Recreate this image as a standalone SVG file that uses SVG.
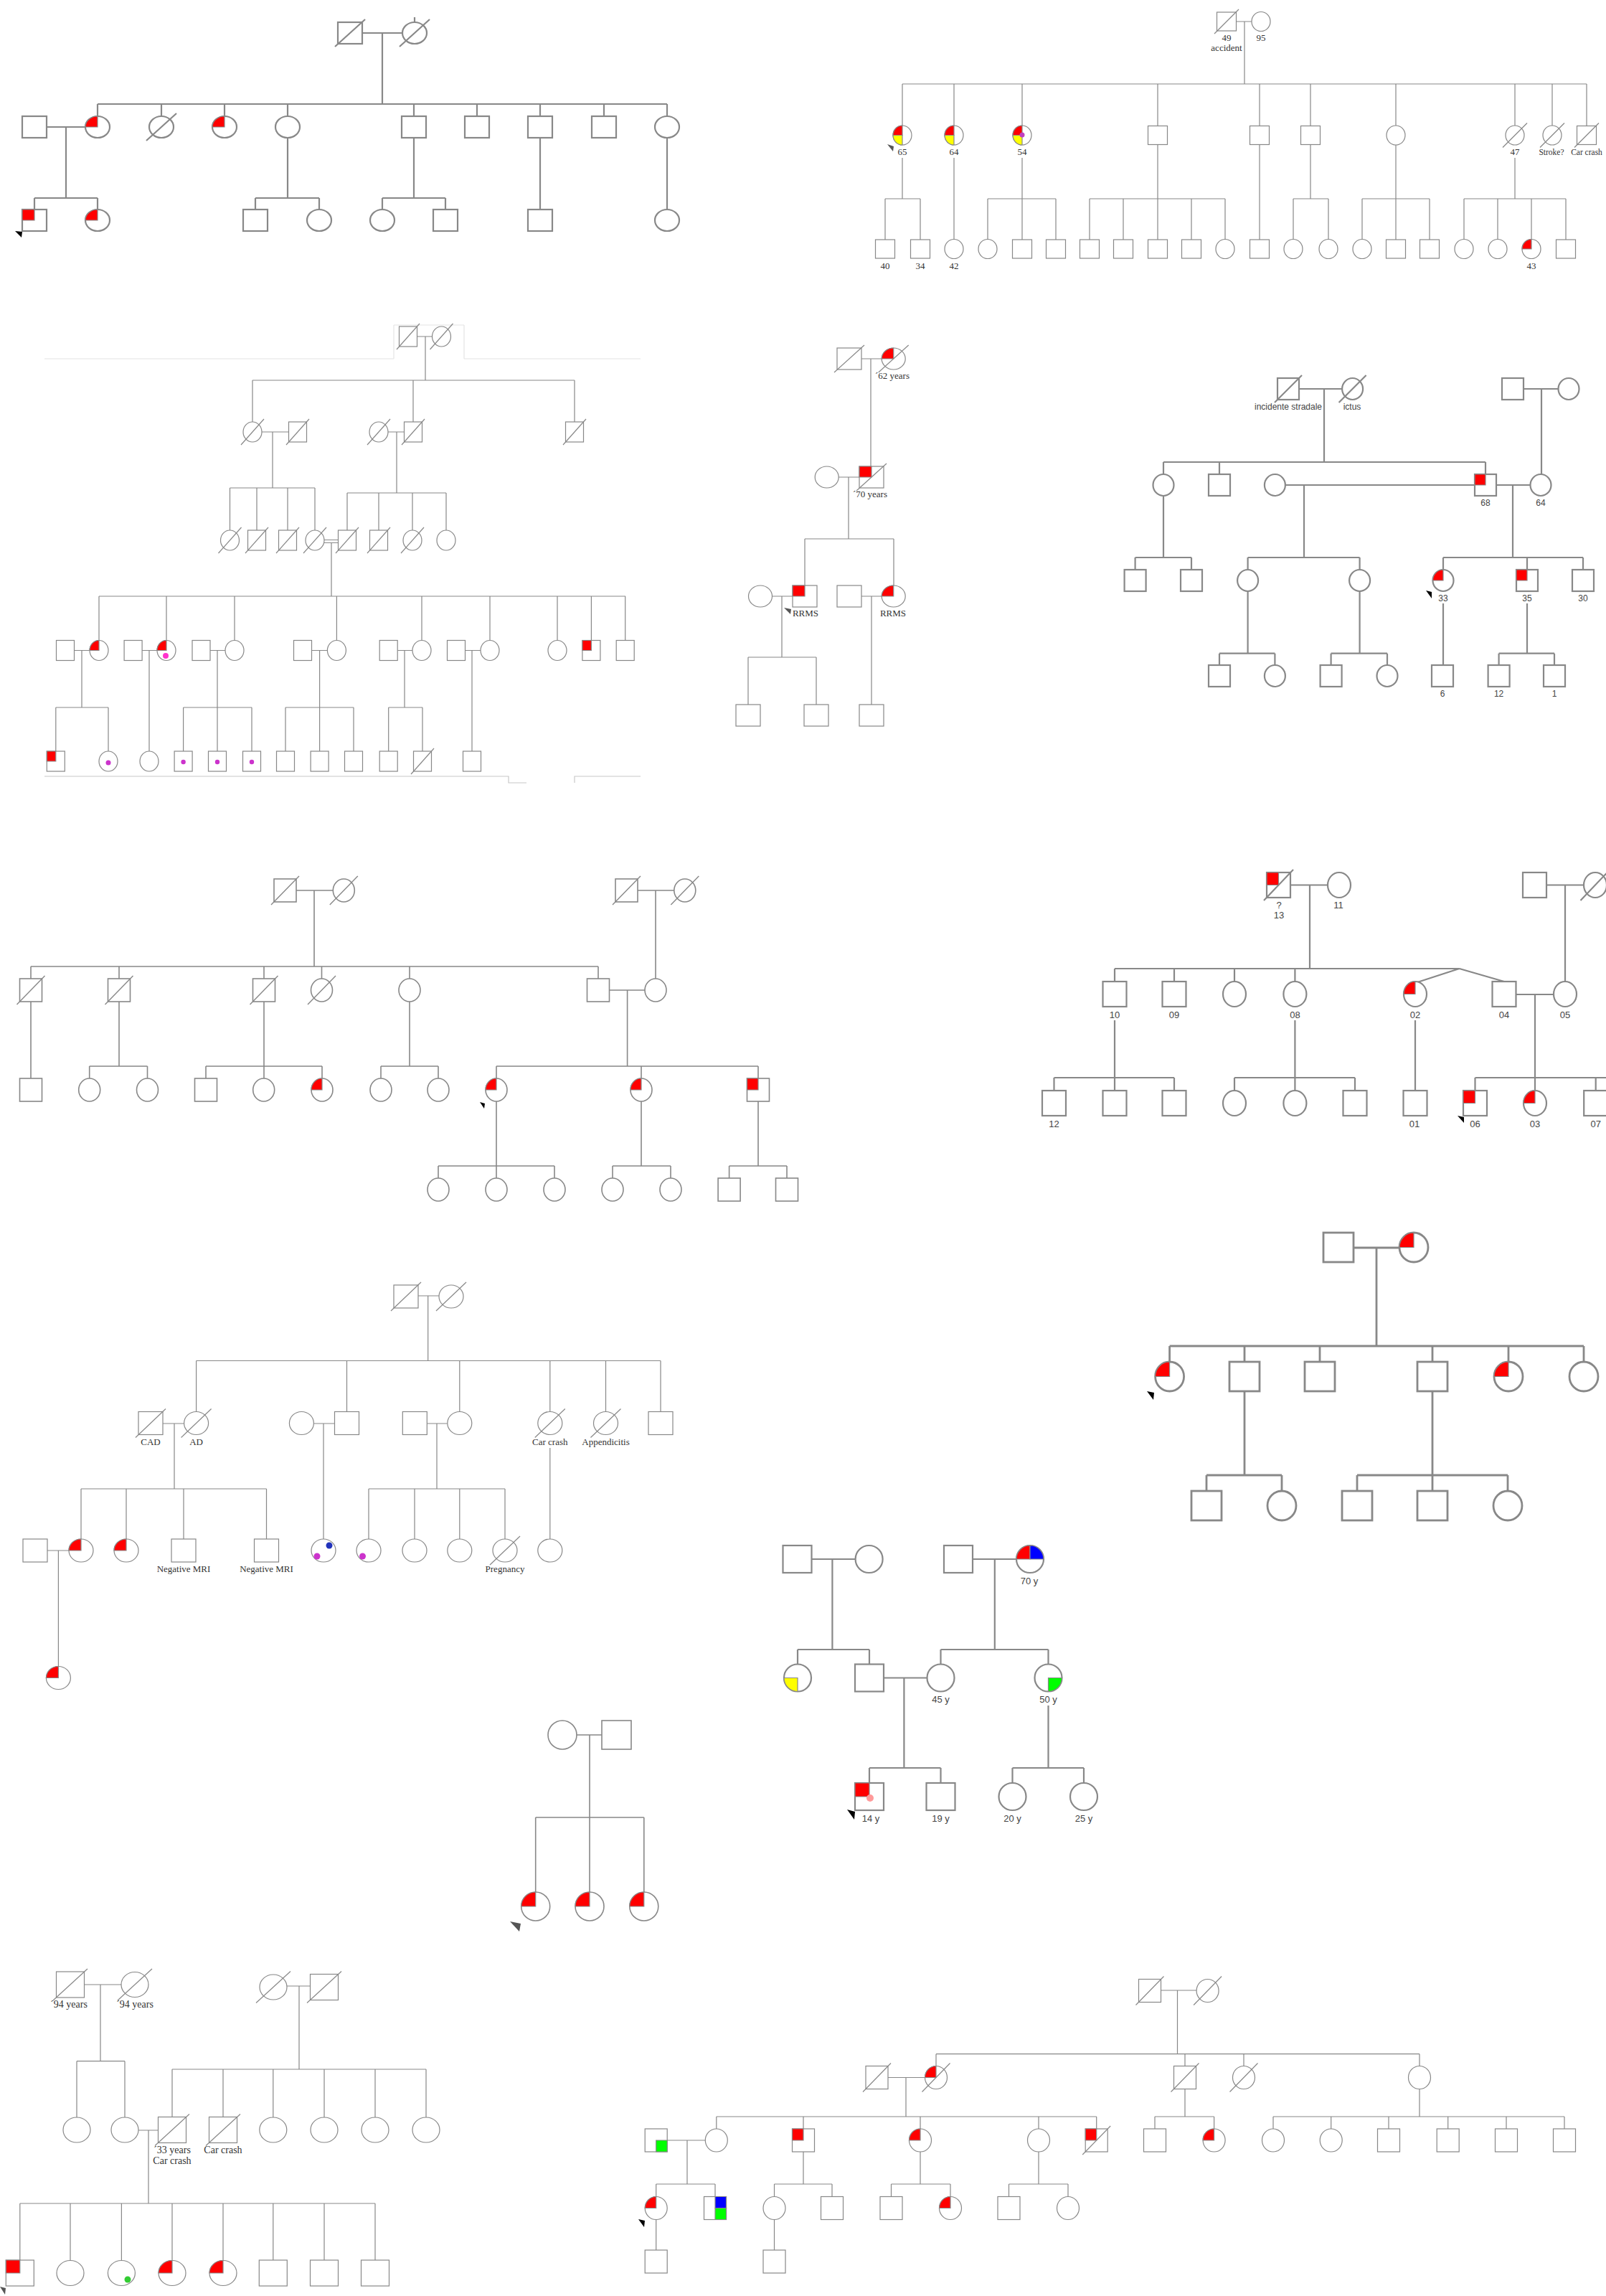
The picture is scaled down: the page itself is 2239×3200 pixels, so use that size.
<svg xmlns="http://www.w3.org/2000/svg" width="2239" height="3200" viewBox="0 0 2239 3200">
<style>
.ln{fill:none;stroke:#888;stroke-width:1.6}
.n{fill:#fff;stroke:#888;stroke-width:1.6}
.r{fill:#f00;stroke:#888;stroke-width:1.2}
.y{fill:#ff0;stroke:#888;stroke-width:1.2}
.b{fill:#00f;stroke:#888;stroke-width:1.2}
.g{fill:#0f0;stroke:#888;stroke-width:1.2}
.k{fill:none;stroke:#888;stroke-width:1.4}
.w1 .ln,.w1 .n,.w1 .k{stroke-width:1.2}
.w3 .ln,.w3 .n,.w3 .k{stroke-width:2.2}
.w4 .ln,.w4 .n,.w4 .k{stroke-width:2.8}
.faint{fill:none;stroke:#e4e4e4;stroke-width:1.2}
.faint2{fill:none;stroke:#c8c8c8;stroke-width:1.2}
.ar{fill:#000}
.ag{fill:#555}
.ts{font-family:"Liberation Serif",serif;font-size:13px;fill:#333;text-anchor:middle}
.tsn{font-family:"Liberation Serif",serif;font-size:11.5px;fill:#333;text-anchor:middle}
.tl{font-family:"Liberation Serif",serif;font-size:14px;fill:#333;text-anchor:middle}
.tn{font-family:"Liberation Sans",sans-serif;font-size:13px;fill:#444;text-anchor:middle}
.te{font-family:"Liberation Sans",sans-serif;font-size:12px;fill:#444;text-anchor:middle}
</style>
<defs>
<rect id="A-s" x="-17" y="-15" width="34" height="30"/>
<ellipse id="A-c" rx="17" ry="15"/>
<path id="A-qs" d="M-17-15H0V0H-17Z"/>
<path id="A-qc" d="M-17,0A17,15 0 0 1 0-15V0Z"/>
<path id="A-x" d="M-21,19L21-19"/>
<rect id="B-s" x="-13.5" y="-13" width="27" height="26"/>
<ellipse id="B-c" rx="13" ry="13.5"/>
<path id="B-qc" d="M-13,0A13,13.5 0 0 1 0-13.5V0Z"/>
<path id="B-qy" d="M-13,0A13,13.5 0 0 0 0,13.5V0Z"/>
<path id="B-x" d="M-17,17L17-17"/>
<rect id="C-s" x="-12.5" y="-14" width="25" height="28"/>
<ellipse id="C-c" rx="13" ry="14"/>
<path id="C-qs" d="M-12.5-14H0V0H-12.5Z"/>
<path id="C-qc" d="M-13,0A13,14 0 0 1 0-14V0Z"/>
<path id="C-x" d="M-16,18L16-18"/>
<rect id="D-s" x="-17" y="-15" width="34" height="30"/>
<ellipse id="D-c" rx="16.5" ry="15"/>
<path id="D-qs" d="M-17-15H0V0H-17Z"/>
<path id="D-qc" d="M-16.5,0A16.5,15 0 0 1 0-15V0Z"/>
<path id="D-x" d="M-21,19L21-19"/>
<rect id="E-s" x="-15" y="-15" width="30" height="30"/>
<ellipse id="E-c" rx="14.5" ry="15"/>
<path id="E-qs" d="M-15-15H0V0H-15Z"/>
<path id="E-qc" d="M-14.5,0A14.5,15 0 0 1 0-15V0Z"/>
<path id="E-x" d="M-19,19L19-19"/>
<rect id="F-s" x="-15.5" y="-16" width="31" height="32"/>
<ellipse id="F-c" rx="15" ry="16"/>
<path id="F-qs" d="M-15.5-16H0V0H-15.5Z"/>
<path id="F-qc" d="M-15,0A15,16 0 0 1 0-16V0Z"/>
<path id="F-x" d="M-19.5,20L19.5-20"/>
<rect id="G-s" x="-16.5" y="-17.5" width="33" height="35"/>
<ellipse id="G-c" rx="16" ry="17.5"/>
<path id="G-qs" d="M-16.5-17.5H0V0H-16.5Z"/>
<path id="G-qc" d="M-16,0A16,17.5 0 0 1 0-17.5V0Z"/>
<path id="G-x" d="M-20.5,21.5L20.5-21.5"/>
<rect id="H-s" x="-17" y="-16" width="34" height="32"/>
<ellipse id="H-c" rx="17" ry="16"/>
<path id="H-qc" d="M-17,0A17,16 0 0 1 0-16V0Z"/>
<path id="H-x" d="M-21,20L21-20"/>
<rect id="I-s" x="-21" y="-20.5" width="42" height="41"/>
<ellipse id="I-c" rx="20" ry="20.5"/>
<path id="I-qc" d="M-20,0A20,20.5 0 0 1 0-20.5V0Z"/>
<rect id="J-s" x="-20.5" y="-20" width="41" height="40"/>
<ellipse id="J-c" rx="20" ry="20"/>
<path id="J-qc" d="M-20,0A20,20 0 0 1 0-20V0Z"/>
<rect id="K-s" x="-20" y="-19" width="40" height="38"/>
<ellipse id="K-c" rx="19" ry="19"/>
<path id="K-qs" d="M-20-19H0V0H-20Z"/>
<path id="K-qc" d="M-19,0A19,19 0 0 1 0-19V0Z"/>
<path id="K-qtr" d="M0-19A19,19 0 0 1 19,0H0Z"/>
<path id="K-qbl" d="M-19,0A19,19 0 0 0 0,19V0Z"/>
<path id="K-qbr" d="M0,19A19,19 0 0 0 19,0H0Z"/>
<rect id="L-s" x="-19.5" y="-18" width="39" height="36"/>
<ellipse id="L-c" rx="19" ry="17.5"/>
<path id="L-qs" d="M-19.5-18H0V0H-19.5Z"/>
<path id="L-qc" d="M-19,0A19,17.5 0 0 1 0-17.5V0Z"/>
<path id="L-x" d="M-24,22L24-22"/>
<rect id="M-s" x="-15.5" y="-16" width="31" height="32"/>
<ellipse id="M-c" rx="15.5" ry="16"/>
<path id="M-qs" d="M-15.5-16H0V0H-15.5Z"/>
<path id="M-qc" d="M-15.5,0A15.5,16 0 0 1 0-16V0Z"/>
<path id="M-qtr" d="M0-16H15.5V0H0Z"/>
<path id="M-qbr" d="M0,0H15.5V16H0Z"/>
<path id="M-x" d="M-19.5,20L19.5-20"/>
</defs>
<rect width="2239" height="3200" fill="#fff"/>

<!-- ===== Pedigree A ===== -->
<g id="pedA" class="w3">
<g id="A-connectors"><path class="ln" d="M505,46H561 M533,46V145 M136,145H930 M136,145V162 M225,145V162 M313,145V162 M401,145V162 M577,145V162 M665,145V162 M753,145V162 M842,145V162 M930,145V162 M65,177H119 M92,177V276 M48,276H136 M48,276V292 M136,276V292 M401,192V276 M356,276H445 M356,276V292 M445,276V292 M577,192V276 M533,276H621 M533,276V292 M621,276V292 M753,192V292 M930,192V292"/></g>
<g id="A1"><use href="#A-s" class="n" x="488" y="46"/><use href="#A-x" class="k" x="488" y="46"/></g>
<g id="A2"><use href="#A-c" class="n" x="578" y="46"/><use href="#A-x" class="k" x="578" y="46"/><path class="k" d="M578,24V31"/></g>
<g id="A3"><use href="#A-s" class="n" x="48" y="177"/></g>
<g id="A4"><use href="#A-c" class="n" x="136" y="177"/><use href="#A-qc" class="r" x="136" y="177"/></g>
<g id="A5"><use href="#A-c" class="n" x="225" y="177"/><use href="#A-x" class="k" x="225" y="177"/></g>
<g id="A6"><use href="#A-c" class="n" x="313" y="177"/><use href="#A-qc" class="r" x="313" y="177"/></g>
<g id="A7"><use href="#A-c" class="n" x="401" y="177"/></g>
<g id="A8"><use href="#A-s" class="n" x="577" y="177"/></g>
<g id="A9"><use href="#A-s" class="n" x="665" y="177"/></g>
<g id="A10"><use href="#A-s" class="n" x="753" y="177"/></g>
<g id="A11"><use href="#A-s" class="n" x="842" y="177"/></g>
<g id="A12"><use href="#A-c" class="n" x="930" y="177"/></g>
<g id="A13"><use href="#A-s" class="n" x="48" y="307"/><use href="#A-qs" class="r" x="48" y="307"/><polygon class="ar" points="21,322 31,323 30,331"/></g>
<g id="A14"><use href="#A-c" class="n" x="136" y="307"/><use href="#A-qc" class="r" x="136" y="307"/></g>
<g id="A15"><use href="#A-s" class="n" x="356" y="307"/></g>
<g id="A16"><use href="#A-c" class="n" x="445" y="307"/></g>
<g id="A17"><use href="#A-c" class="n" x="533" y="307"/></g>
<g id="A18"><use href="#A-s" class="n" x="621" y="307"/></g>
<g id="A19"><use href="#A-s" class="n" x="753" y="307"/></g>
<g id="A20"><use href="#A-c" class="n" x="930" y="307"/></g>
</g>

<!-- ===== Pedigree B ===== -->
<g id="pedB" class="w1">
<g id="B-connectors"><path class="ln" d="M1723.5,30H1745 M1735,30V117 M1258,117H2212 M1258,117V175 M1330,117V175 M1425,117V175 M1614,117V175 M1756,117V175 M1827,117V175 M1946,117V175 M2112,117V175 M2164,117V175 M2212,117V175 M1258,220V277 M1234,277H1283 M1234,277V334 M1283,277V334 M1330,220V334 M1425,220V277 M1377,277H1472 M1377,277V334 M1425,277V334 M1472,277V334 M1614,202V277 M1519,277H1708 M1519,277V334 M1566,277V334 M1614,277V334 M1661,277V334 M1708,277V334 M1756,202V334 M1827,202V277 M1803,277H1852 M1803,277V334 M1852,277V334 M1946,202V277 M1899,277H1993 M1899,277V334 M1946,277V334 M1993,277V334 M2112,220V277 M2041,277H2183 M2041,277V334 M2088,277V334 M2135,277V334 M2183,277V334"/></g>
<g id="B1"><use href="#B-s" class="n" x="1710" y="30"/><use href="#B-x" class="k" x="1710" y="30"/><text class="ts" x="1710" y="57">49</text><text class="ts" x="1710" y="71">accident</text></g>
<g id="B2"><use href="#B-c" class="n" x="1758" y="30"/><text class="ts" x="1758" y="57">95</text></g>
<g id="B3"><use href="#B-c" class="n" x="1258" y="188.5"/><use href="#B-qc" class="r" x="1258" y="188.5"/><use href="#B-qy" class="y" x="1258" y="188.5"/><text class="ts" x="1258" y="216">65</text><polygon class="ag" points="1237,201 1246,204 1245,211"/></g>
<g id="B4"><use href="#B-c" class="n" x="1330" y="188.5"/><use href="#B-qc" class="r" x="1330" y="188.5"/><use href="#B-qy" class="y" x="1330" y="188.5"/><text class="ts" x="1330" y="216">64</text></g>
<g id="B5"><use href="#B-c" class="n" x="1425" y="188.5"/><use href="#B-qc" class="r" x="1425" y="188.5"/><use href="#B-qy" class="y" x="1425" y="188.5"/><circle cx="1425" cy="188" r="3.5" fill="#c040c0"/><text class="ts" x="1425" y="216">54</text></g>
<g id="B6"><use href="#B-s" class="n" x="1614" y="188.5"/></g>
<g id="B7"><use href="#B-s" class="n" x="1756" y="188.5"/></g>
<g id="B8"><use href="#B-s" class="n" x="1827" y="188.5"/></g>
<g id="B9"><use href="#B-c" class="n" x="1946" y="188.5"/></g>
<g id="B10"><use href="#B-c" class="n" x="2112" y="188.5"/><use href="#B-x" class="k" x="2112" y="188.5"/><text class="ts" x="2112" y="216">47</text></g>
<g id="B11"><use href="#B-c" class="n" x="2164" y="188.5"/><use href="#B-x" class="k" x="2164" y="188.5"/><text class="tsn" x="2163" y="216">Stroke?</text></g>
<g id="B12"><use href="#B-s" class="n" x="2212" y="188.5"/><use href="#B-x" class="k" x="2212" y="188.5"/><text class="tsn" x="2212" y="216">Car crash</text></g>
<g id="B13"><use href="#B-s" class="n" x="1234" y="347"/><text class="ts" x="1234" y="375">40</text></g>
<g id="B14"><use href="#B-s" class="n" x="1283" y="347"/><text class="ts" x="1283" y="375">34</text></g>
<g id="B15"><use href="#B-c" class="n" x="1330" y="347"/><text class="ts" x="1330" y="375">42</text></g>
<g id="B16"><use href="#B-c" class="n" x="1377" y="347"/></g>
<g id="B17"><use href="#B-s" class="n" x="1425" y="347"/></g>
<g id="B18"><use href="#B-s" class="n" x="1472" y="347"/></g>
<g id="B19"><use href="#B-s" class="n" x="1519" y="347"/></g>
<g id="B20"><use href="#B-s" class="n" x="1566" y="347"/></g>
<g id="B21"><use href="#B-s" class="n" x="1614" y="347"/></g>
<g id="B22"><use href="#B-s" class="n" x="1661" y="347"/></g>
<g id="B23"><use href="#B-c" class="n" x="1708" y="347"/></g>
<g id="B24"><use href="#B-s" class="n" x="1756" y="347"/></g>
<g id="B25"><use href="#B-c" class="n" x="1803" y="347"/></g>
<g id="B26"><use href="#B-c" class="n" x="1852" y="347"/></g>
<g id="B27"><use href="#B-c" class="n" x="1899" y="347"/></g>
<g id="B28"><use href="#B-s" class="n" x="1946" y="347"/></g>
<g id="B29"><use href="#B-s" class="n" x="1993" y="347"/></g>
<g id="B30"><use href="#B-c" class="n" x="2041" y="347"/></g>
<g id="B31"><use href="#B-c" class="n" x="2088" y="347"/></g>
<g id="B32"><use href="#B-c" class="n" x="2135" y="347"/><use href="#B-qc" class="r" x="2135" y="347"/><text class="ts" x="2135" y="375">43</text></g>
<g id="B33"><use href="#B-s" class="n" x="2183" y="347"/></g>
</g>

<!-- ===== Pedigree C ===== -->
<g id="pedC" class="w1">
<path class="faint" d="M62,500H549 M549,453V500 M549,453H647 M647,453V500 M647,500H893"/>
<path class="faint2" d="M62,1082H709V1091H734 M801,1091V1082H893"/>
<g id="C-connectors"><path class="ln" d="M581.5,469H602.5 M593,469V530 M352,530H801 M352,530V588 M576,530V588 M801,530V588 M365,602H402.5 M380,602V680 M541,602H563.5 M553,602V687 M320.5,680H439 M320.5,680V739 M358,680V739 M401,680V739 M439,680V739 M484,687H622 M484,687V739 M528,687V739 M575,687V739 M622,687V739 M452,752.5H471.5 M452,756.5H471.5 M462,756.5V831 M138,831H872 M138,831V892.5 M232,831V892.5 M327,831V892.5 M469.4,831V892.5 M588,831V892.5 M683,831V892.5 M777,831V892.5 M824.4,831V892.5 M871.7,831V892.5 M103.5,906.5H125 M114,906.5V986 M198,906.5H219 M208,906.5V1047 M293,906.5H314 M303,906.5V986 M434.5,906.5H456.4 M445.6,906.5V986 M554.2,906.5H575 M564,906.5V986 M648.5,906.5H670 M658,906.5V1047 M77.8,986H151 M77.8,986V1047 M151,986V1047 M255.6,986H351 M255.6,986V1047 M303,986V1047 M351,986V1047 M398,986H493 M398,986V1047 M445.6,986V1047 M493,986V1047 M541.7,986H589 M541.7,986V1047 M589,986V1047"/></g>
<g id="C1"><use href="#C-s" class="n" x="569" y="469"/><use href="#C-x" class="k" x="569" y="469"/></g>
<g id="C2"><use href="#C-c" class="n" x="615.5" y="469"/><use href="#C-x" class="k" x="615.5" y="469"/></g>
<g id="C3"><use href="#C-c" class="n" x="352" y="602"/><use href="#C-x" class="k" x="352" y="602"/></g>
<g id="C4"><use href="#C-s" class="n" x="415" y="602"/><use href="#C-x" class="k" x="415" y="602"/></g>
<g id="C5"><use href="#C-c" class="n" x="528" y="602"/><use href="#C-x" class="k" x="528" y="602"/></g>
<g id="C6"><use href="#C-s" class="n" x="576" y="602"/><use href="#C-x" class="k" x="576" y="602"/></g>
<g id="C7"><use href="#C-s" class="n" x="801" y="602"/><use href="#C-x" class="k" x="801" y="602"/></g>
<g id="C8"><use href="#C-c" class="n" x="320.5" y="753"/><use href="#C-x" class="k" x="320.5" y="753"/></g>
<g id="C9"><use href="#C-s" class="n" x="358" y="753"/><use href="#C-x" class="k" x="358" y="753"/></g>
<g id="C10"><use href="#C-s" class="n" x="401" y="753"/><use href="#C-x" class="k" x="401" y="753"/></g>
<g id="C11"><use href="#C-c" class="n" x="439" y="753"/><use href="#C-x" class="k" x="439" y="753"/></g>
<g id="C12"><use href="#C-s" class="n" x="484" y="753"/><use href="#C-x" class="k" x="484" y="753"/></g>
<g id="C13"><use href="#C-s" class="n" x="528" y="753"/><use href="#C-x" class="k" x="528" y="753"/></g>
<g id="C14"><use href="#C-c" class="n" x="575" y="753"/><use href="#C-x" class="k" x="575" y="753"/></g>
<g id="C15"><use href="#C-c" class="n" x="622" y="753"/></g>
<g id="C16"><use href="#C-s" class="n" x="91" y="906.5"/></g>
<g id="C17"><use href="#C-c" class="n" x="138" y="906.5"/><use href="#C-qc" class="r" x="138" y="906.5"/></g>
<g id="C18"><use href="#C-s" class="n" x="185.6" y="906.5"/></g>
<g id="C19"><use href="#C-c" class="n" x="232" y="906.5"/><use href="#C-qc" class="r" x="232" y="906.5"/><circle cx="231" cy="914" r="4" fill="#ff33cc"/></g>
<g id="C20"><use href="#C-s" class="n" x="280.5" y="906.5"/></g>
<g id="C21"><use href="#C-c" class="n" x="327" y="906.5"/></g>
<g id="C22"><use href="#C-s" class="n" x="422" y="906.5"/></g>
<g id="C23"><use href="#C-c" class="n" x="469.4" y="906.5"/></g>
<g id="C24"><use href="#C-s" class="n" x="541.7" y="906.5"/></g>
<g id="C25"><use href="#C-c" class="n" x="588" y="906.5"/></g>
<g id="C26"><use href="#C-s" class="n" x="636" y="906.5"/></g>
<g id="C27"><use href="#C-c" class="n" x="683" y="906.5"/></g>
<g id="C28"><use href="#C-c" class="n" x="777" y="906.5"/></g>
<g id="C29"><use href="#C-s" class="n" x="824.4" y="906.5"/><use href="#C-qs" class="r" x="824.4" y="906.5"/></g>
<g id="C30"><use href="#C-s" class="n" x="871.7" y="906.5"/></g>
<g id="C31"><use href="#C-s" class="n" x="77.8" y="1061"/><use href="#C-qs" class="r" x="77.8" y="1061"/></g>
<g id="C32"><use href="#C-c" class="n" x="151" y="1061"/><circle cx="151" cy="1063" r="3.5" fill="#cc33cc"/></g>
<g id="C33"><use href="#C-c" class="n" x="208" y="1061"/></g>
<g id="C34"><use href="#C-s" class="n" x="255.6" y="1061"/><circle cx="255.6" cy="1062" r="3.2" fill="#cc33cc"/></g>
<g id="C35"><use href="#C-s" class="n" x="303" y="1061"/><circle cx="303" cy="1062" r="3.2" fill="#cc33cc"/></g>
<g id="C36"><use href="#C-s" class="n" x="351" y="1061"/><circle cx="351" cy="1062" r="3.2" fill="#cc33cc"/></g>
<g id="C37"><use href="#C-s" class="n" x="398" y="1061"/></g>
<g id="C38"><use href="#C-s" class="n" x="445.6" y="1061"/></g>
<g id="C39"><use href="#C-s" class="n" x="493" y="1061"/></g>
<g id="C40"><use href="#C-s" class="n" x="541.7" y="1061"/></g>
<g id="C41"><use href="#C-s" class="n" x="589" y="1061"/><use href="#C-x" class="k" x="589" y="1061"/></g>
<g id="C42"><use href="#C-s" class="n" x="658" y="1061"/></g>
</g>

<!-- ===== Pedigree D ===== -->
<g id="pedD" class="w1">
<g id="D-connectors"><path class="ln" d="M1201,500H1229 M1214,500V650 M1169,665H1198 M1183,665V751 M1122,751H1246 M1122,751V816 M1246,751V816 M1076.5,831H1105 M1090,831V916 M1043,916H1138 M1043,916V982 M1138,916V982 M1201,831H1229 M1215,831V982"/></g>
<g id="D1"><use href="#D-s" class="n" x="1184" y="500"/><use href="#D-x" class="k" x="1184" y="500"/></g>
<g id="D2"><use href="#D-c" class="n" x="1245.7" y="500"/><use href="#D-qc" class="r" x="1245.7" y="500"/><use href="#D-x" class="k" x="1245.7" y="500"/><text class="ts" x="1244" y="528">´62 years</text></g>
<g id="D3"><use href="#D-c" class="n" x="1152.7" y="665"/></g>
<g id="D4"><use href="#D-s" class="n" x="1215" y="665"/><use href="#D-qs" class="r" x="1215" y="665"/><use href="#D-x" class="k" x="1215" y="665"/><text class="ts" x="1213" y="693">´70 years</text></g>
<g id="D5"><use href="#D-c" class="n" x="1060" y="831"/></g>
<g id="D6"><use href="#D-s" class="n" x="1122" y="831"/><use href="#D-qs" class="r" x="1122" y="831"/><text class="ts" x="1123" y="859">RRMS</text><polygon class="ag" points="1093,847 1103,849 1102,856"/></g>
<g id="D7"><use href="#D-s" class="n" x="1184" y="831"/></g>
<g id="D8"><use href="#D-c" class="n" x="1245.7" y="831"/><use href="#D-qc" class="r" x="1245.7" y="831"/><text class="ts" x="1245" y="859">RRMS</text></g>
<g id="D9"><use href="#D-s" class="n" x="1043" y="997"/></g>
<g id="D10"><use href="#D-s" class="n" x="1138" y="997"/></g>
<g id="D11"><use href="#D-s" class="n" x="1215" y="997"/></g>
</g>

<!-- ===== Pedigree E ===== -->
<g id="pedE" class="w3">
<g id="E-connectors"><path class="ln" d="M1811,542H1871 M1846,542V644 M2124,542H2172.5 M2149,542V661 M1622,644H2071 M1622,644V661 M1700,644V661 M2071,644V661 M1792,676H2056 M1818,676V777 M2086,676H2133.5 M2109,676V777 M1622,691V777 M1582.6,777H1661 M1582.6,777V794 M1661,777V794 M1739.6,777H1895.6 M1739.6,777V794 M1895.6,777V794 M2012,777H2207 M2012,777V794 M2129,777V794 M2207,777V794 M1739.6,824V910.7 M1895.6,824V910.7 M2012,841V927 M2129,841V910.7 M1700,910.7H1777.4 M1700,910.7V927 M1777.4,910.7V927 M1855.6,910.7H1934 M1855.6,910.7V927 M1934,910.7V927 M2089.6,910.7H2167 M2089.6,910.7V927 M2167,910.7V927"/></g>
<g id="E1"><use href="#E-s" class="n" x="1796" y="542"/><use href="#E-x" class="k" x="1796" y="542"/><text class="te" x="1796" y="571">incidente stradale</text></g>
<g id="E2"><use href="#E-c" class="n" x="1885.6" y="542"/><use href="#E-x" class="k" x="1885.6" y="542"/><text class="te" x="1885" y="571">ictus</text></g>
<g id="E3"><use href="#E-s" class="n" x="2109" y="542"/></g>
<g id="E4"><use href="#E-c" class="n" x="2187" y="542"/></g>
<g id="E5"><use href="#E-c" class="n" x="1622" y="676"/></g>
<g id="E6"><use href="#E-s" class="n" x="1700" y="676"/></g>
<g id="E7"><use href="#E-c" class="n" x="1777.4" y="676"/></g>
<g id="E8"><use href="#E-s" class="n" x="2071" y="676"/><use href="#E-qs" class="r" x="2071" y="676"/><text class="te" x="2071" y="705">68</text></g>
<g id="E9"><use href="#E-c" class="n" x="2148" y="676"/><text class="te" x="2148" y="705">64</text></g>
<g id="E10"><use href="#E-s" class="n" x="1582.6" y="809"/></g>
<g id="E11"><use href="#E-s" class="n" x="1661" y="809"/></g>
<g id="E12"><use href="#E-c" class="n" x="1739.6" y="809"/></g>
<g id="E13"><use href="#E-c" class="n" x="1895.6" y="809"/></g>
<g id="E14"><use href="#E-c" class="n" x="2012" y="809"/><use href="#E-qc" class="r" x="2012" y="809"/><text class="te" x="2012" y="838">33</text><polygon class="ar" points="1988,823 1996,825 1996,834"/></g>
<g id="E15"><use href="#E-s" class="n" x="2129" y="809"/><use href="#E-qs" class="r" x="2129" y="809"/><text class="te" x="2129" y="838">35</text></g>
<g id="E16"><use href="#E-s" class="n" x="2207" y="809"/><text class="te" x="2207" y="838">30</text></g>
<g id="E17"><use href="#E-s" class="n" x="1700" y="942"/></g>
<g id="E18"><use href="#E-c" class="n" x="1777.4" y="942"/></g>
<g id="E19"><use href="#E-s" class="n" x="1855.6" y="942"/></g>
<g id="E20"><use href="#E-c" class="n" x="1934" y="942"/></g>
<g id="E21"><use href="#E-s" class="n" x="2011" y="942"/><text class="te" x="2011" y="971">6</text></g>
<g id="E22"><use href="#E-s" class="n" x="2089.6" y="942"/><text class="te" x="2089.6" y="971">12</text></g>
<g id="E23"><use href="#E-s" class="n" x="2167" y="942"/><text class="te" x="2167" y="971">1</text></g>
</g>

<!-- ===== Pedigree F ===== -->
<g id="pedF">
<g id="F-connectors"><path class="ln" d="M413,1241H464 M438,1241V1347 M889,1241H940 M914,1241V1364 M43,1347H834 M43,1347V1364 M166,1347V1364 M368,1347V1364 M448.5,1347V1364 M571,1347V1364 M834,1347V1364 M849.5,1380H899 M874.6,1380V1486 M43,1396V1503 M166,1396V1486 M368,1396V1486 M571,1396V1486 M124.7,1486H205.5 M124.7,1486V1503 M205.5,1486V1503 M287,1486H449 M287,1486V1503 M368,1486V1503 M449,1486V1503 M531,1486H611 M531,1486V1503 M611,1486V1503 M692,1486H1057 M692,1486V1503 M894,1486V1503 M1057,1486V1503 M692,1535V1625 M894,1535V1625 M1057,1535V1625 M611,1625H773 M611,1625V1642 M692,1625V1642 M773,1625V1642 M854,1625H935 M854,1625V1642 M935,1625V1642 M1016.6,1625H1097 M1016.6,1625V1642 M1097,1625V1642"/></g>
<g id="F1"><use href="#F-s" class="n" x="397.5" y="1241"/><use href="#F-x" class="k" x="397.5" y="1241"/></g>
<g id="F2"><use href="#F-c" class="n" x="479.3" y="1241"/><use href="#F-x" class="k" x="479.3" y="1241"/></g>
<g id="F3"><use href="#F-s" class="n" x="873.5" y="1241"/><use href="#F-x" class="k" x="873.5" y="1241"/></g>
<g id="F4"><use href="#F-c" class="n" x="954.8" y="1241"/><use href="#F-x" class="k" x="954.8" y="1241"/></g>
<g id="F5"><use href="#F-s" class="n" x="43" y="1380"/><use href="#F-x" class="k" x="43" y="1380"/></g>
<g id="F6"><use href="#F-s" class="n" x="166" y="1380"/><use href="#F-x" class="k" x="166" y="1380"/></g>
<g id="F7"><use href="#F-s" class="n" x="368" y="1380"/><use href="#F-x" class="k" x="368" y="1380"/></g>
<g id="F8"><use href="#F-c" class="n" x="448.5" y="1380"/><use href="#F-x" class="k" x="448.5" y="1380"/></g>
<g id="F9"><use href="#F-c" class="n" x="571" y="1380"/></g>
<g id="F10"><use href="#F-s" class="n" x="834" y="1380"/></g>
<g id="F11"><use href="#F-c" class="n" x="914" y="1380"/></g>
<g id="F12"><use href="#F-s" class="n" x="43" y="1519"/></g>
<g id="F13"><use href="#F-c" class="n" x="124.7" y="1519"/></g>
<g id="F14"><use href="#F-c" class="n" x="205.5" y="1519"/></g>
<g id="F15"><use href="#F-s" class="n" x="287" y="1519"/></g>
<g id="F16"><use href="#F-c" class="n" x="367.7" y="1519"/></g>
<g id="F17"><use href="#F-c" class="n" x="449" y="1519"/><use href="#F-qc" class="r" x="449" y="1519"/></g>
<g id="F18"><use href="#F-c" class="n" x="531" y="1519"/></g>
<g id="F19"><use href="#F-c" class="n" x="611" y="1519"/></g>
<g id="F20"><use href="#F-c" class="n" x="692" y="1519"/><use href="#F-qc" class="r" x="692" y="1519"/><polygon class="ar" points="669,1536 676,1538 675,1545"/></g>
<g id="F21"><use href="#F-c" class="n" x="894" y="1519"/><use href="#F-qc" class="r" x="894" y="1519"/></g>
<g id="F22"><use href="#F-s" class="n" x="1057" y="1519"/><use href="#F-qs" class="r" x="1057" y="1519"/></g>
<g id="F23"><use href="#F-c" class="n" x="611" y="1658"/></g>
<g id="F24"><use href="#F-c" class="n" x="692" y="1658"/></g>
<g id="F25"><use href="#F-c" class="n" x="773" y="1658"/></g>
<g id="F26"><use href="#F-c" class="n" x="854" y="1658"/></g>
<g id="F27"><use href="#F-c" class="n" x="935" y="1658"/></g>
<g id="F28"><use href="#F-s" class="n" x="1016.6" y="1658"/></g>
<g id="F29"><use href="#F-s" class="n" x="1097" y="1658"/></g>
</g>

<!-- ===== Pedigree G ===== -->
<g id="pedG" class="w3">
<g id="G-connectors"><path class="ln" d="M1799,1233.5H1851 M1826,1233.5V1350 M1554,1350H2034.6 M1554,1350V1368 M1637,1350V1368 M1721,1350V1368 M1805.4,1350V1368 M2034.6,1350L1976,1369 M2034.6,1350L2097,1368 M2156,1233.5H2208 M2182,1233.5V1368 M2113.5,1386H2166 M2140,1386V1502 M1554,1422V1502 M1805.4,1422V1502 M1973,1422V1520 M1469.5,1502H1637 M1469.5,1502V1520 M1554,1502V1520 M1637,1502V1520 M1721,1502H1889 M1721,1502V1520 M1805.4,1502V1520 M1889,1502V1520 M2056.5,1502H2239 M2056.5,1502V1520 M2140,1502V1520 M2224.7,1502V1520"/></g>
<g id="G1"><use href="#G-s" class="n" x="1782.5" y="1233.5"/><use href="#G-qs" class="r" x="1782.5" y="1233.5"/><use href="#G-x" class="k" x="1782.5" y="1233.5"/><text class="tn" x="1783" y="1266">?</text><text class="tn" x="1783" y="1280">13</text></g>
<g id="G2"><use href="#G-c" class="n" x="1867" y="1233.5"/><text class="tn" x="1866" y="1266">11</text></g>
<g id="G3"><use href="#G-s" class="n" x="2139.5" y="1233.5"/></g>
<g id="G4"><use href="#G-c" class="n" x="2224" y="1233.5"/><use href="#G-x" class="k" x="2224" y="1233.5"/></g>
<g id="G5"><use href="#G-s" class="n" x="1554" y="1385.5"/><text class="tn" x="1554" y="1419">10</text></g>
<g id="G6"><use href="#G-s" class="n" x="1637" y="1385.5"/><text class="tn" x="1637" y="1419">09</text></g>
<g id="G7"><use href="#G-c" class="n" x="1721" y="1385.5"/></g>
<g id="G8"><use href="#G-c" class="n" x="1805.4" y="1385.5"/><text class="tn" x="1805.4" y="1419">08</text></g>
<g id="G9"><use href="#G-c" class="n" x="1973" y="1385.5"/><use href="#G-qc" class="r" x="1973" y="1385.5"/><text class="tn" x="1973" y="1419">02</text></g>
<g id="G10"><use href="#G-s" class="n" x="2097" y="1385.5"/><text class="tn" x="2097" y="1419">04</text></g>
<g id="G11"><use href="#G-c" class="n" x="2182" y="1385.5"/><text class="tn" x="2182" y="1419">05</text></g>
<g id="G12"><use href="#G-s" class="n" x="1469.5" y="1537.5"/><text class="tn" x="1469.5" y="1571">12</text></g>
<g id="G13"><use href="#G-s" class="n" x="1554" y="1537.5"/></g>
<g id="G14"><use href="#G-s" class="n" x="1637" y="1537.5"/></g>
<g id="G15"><use href="#G-c" class="n" x="1721" y="1537.5"/></g>
<g id="G16"><use href="#G-c" class="n" x="1805.4" y="1537.5"/></g>
<g id="G17"><use href="#G-s" class="n" x="1889" y="1537.5"/></g>
<g id="G18"><use href="#G-s" class="n" x="1973" y="1537.5"/><text class="tn" x="1972" y="1571">01</text></g>
<g id="G19"><use href="#G-s" class="n" x="2056.5" y="1537.5"/><use href="#G-qs" class="r" x="2056.5" y="1537.5"/><text class="tn" x="2056.5" y="1571">06</text><polygon class="ar" points="2032,1555 2041,1557 2041,1565"/></g>
<g id="G20"><use href="#G-c" class="n" x="2140" y="1537.5"/><use href="#G-qc" class="r" x="2140" y="1537.5"/><text class="tn" x="2140" y="1571">03</text></g>
<g id="G21"><use href="#G-s" class="n" x="2224.7" y="1537.5"/><text class="tn" x="2224.7" y="1571">07</text></g>
</g>

<!-- ===== Pedigree H ===== -->
<g id="pedH" class="w1">
<g id="H-connectors"><path class="ln" d="M583,1806H612 M596.7,1806V1896.5 M273.6,1896.5H921 M273.6,1896.5V1967.5 M483.5,1896.5V1967.5 M640.8,1896.5V1967.5 M766.8,1896.5V1967.5 M844.5,1896.5V1967.5 M921,1896.5V1967.5 M227,1984H256.6 M243,1984V2075 M437.4,1984H466.5 M451,1984V2145 M595.3,1984H623.8 M609,1984V2075 M766.8,2018V2145 M113,2075H371.5 M113,2075V2145 M176,2075V2145 M256,2075V2145 M371.5,2075V2145 M514,2075H704 M514,2075V2145 M578,2075V2145 M640.8,2075V2145 M704,2075V2145 M66,2161H96 M81.4,2161V2322.5"/></g>
<g id="H1"><use href="#H-s" class="n" x="566" y="1807"/><use href="#H-x" class="k" x="566" y="1807"/></g>
<g id="H2"><use href="#H-c" class="n" x="629" y="1807"/><use href="#H-x" class="k" x="629" y="1807"/></g>
<g id="H3"><use href="#H-s" class="n" x="210" y="1983.5"/><use href="#H-x" class="k" x="210" y="1983.5"/><text class="ts" x="210" y="2014">CAD</text></g>
<g id="H4"><use href="#H-c" class="n" x="273.6" y="1983.5"/><use href="#H-x" class="k" x="273.6" y="1983.5"/><text class="ts" x="273.6" y="2014">AD</text></g>
<g id="H5"><use href="#H-c" class="n" x="420.4" y="1983.5"/></g>
<g id="H6"><use href="#H-s" class="n" x="483.5" y="1983.5"/></g>
<g id="H7"><use href="#H-s" class="n" x="578.3" y="1983.5"/></g>
<g id="H8"><use href="#H-c" class="n" x="640.8" y="1983.5"/></g>
<g id="H9"><use href="#H-c" class="n" x="766.8" y="1983.5"/><use href="#H-x" class="k" x="766.8" y="1983.5"/><text class="ts" x="766.8" y="2014">Car crash</text></g>
<g id="H10"><use href="#H-c" class="n" x="844.5" y="1983.5"/><use href="#H-x" class="k" x="844.5" y="1983.5"/><text class="ts" x="844.5" y="2014">Appendicitis</text></g>
<g id="H11"><use href="#H-s" class="n" x="921" y="1983.5"/></g>
<g id="H12"><use href="#H-s" class="n" x="49" y="2161"/></g>
<g id="H13"><use href="#H-c" class="n" x="113" y="2161"/><use href="#H-qc" class="r" x="113" y="2161"/></g>
<g id="H14"><use href="#H-c" class="n" x="176" y="2161"/><use href="#H-qc" class="r" x="176" y="2161"/></g>
<g id="H15"><use href="#H-s" class="n" x="256" y="2161"/><text class="ts" x="256" y="2191">Negative MRI</text></g>
<g id="H16"><use href="#H-s" class="n" x="371.5" y="2161"/><text class="ts" x="371.5" y="2191">Negative MRI</text></g>
<g id="H17"><use href="#H-c" class="n" x="451" y="2161"/><circle cx="459" cy="2154" r="4.5" fill="#2233bb"/><circle cx="442" cy="2169" r="4.5" fill="#cc33cc"/></g>
<g id="H18"><use href="#H-c" class="n" x="514" y="2161"/><circle cx="505.5" cy="2169" r="4.5" fill="#cc33cc"/></g>
<g id="H19"><use href="#H-c" class="n" x="578" y="2161"/></g>
<g id="H20"><use href="#H-c" class="n" x="640.8" y="2161"/></g>
<g id="H21"><use href="#H-c" class="n" x="704" y="2161"/><use href="#H-x" class="k" x="704" y="2161"/><text class="ts" x="704" y="2191">Pregnancy</text></g>
<g id="H22"><use href="#H-c" class="n" x="766.8" y="2161"/></g>
<g id="H23"><use href="#H-c" class="n" x="81.4" y="2338.5"/><use href="#H-qc" class="r" x="81.4" y="2338.5"/></g>
</g>

<!-- ===== Pedigree I ===== -->
<g id="pedI" class="w4">
<g id="I-connectors"><path class="ln" d="M1887,1739H1951 M1919,1739V1876 M1630.6,1876H2208 M1630.6,1876V1898 M1735,1876V1898 M1840,1876V1898 M1997,1876V1898 M2103,1876V1898 M2208,1876V1898 M1735,1939V2056 M1997,1939V2056 M1682,2056H1787 M1682,2056V2078 M1787,2056V2078 M1892,2056H2102 M1892,2056V2078 M1997,2056V2078 M2102,2056V2078"/></g>
<g id="I1"><use href="#I-s" class="n" x="1866" y="1738.5"/></g>
<g id="I2"><use href="#I-c" class="n" x="1971" y="1738.5"/><use href="#I-qc" class="r" x="1971" y="1738.5"/></g>
<g id="I3"><use href="#I-c" class="n" x="1630.6" y="1918.5"/><use href="#I-qc" class="r" x="1630.6" y="1918.5"/><polygon class="ar" points="1599,1939 1609,1941 1608,1951"/></g>
<g id="I4"><use href="#I-s" class="n" x="1735" y="1918.5"/></g>
<g id="I5"><use href="#I-s" class="n" x="1840" y="1918.5"/></g>
<g id="I6"><use href="#I-s" class="n" x="1997" y="1918.5"/></g>
<g id="I7"><use href="#I-c" class="n" x="2103" y="1918.5"/><use href="#I-qc" class="r" x="2103" y="1918.5"/></g>
<g id="I8"><use href="#I-c" class="n" x="2208" y="1918.5"/></g>
<g id="I9"><use href="#I-s" class="n" x="1682" y="2098.5"/></g>
<g id="I10"><use href="#I-c" class="n" x="1787" y="2098.5"/></g>
<g id="I11"><use href="#I-s" class="n" x="1892" y="2098.5"/></g>
<g id="I12"><use href="#I-s" class="n" x="1997" y="2098.5"/></g>
<g id="I13"><use href="#I-c" class="n" x="2102" y="2098.5"/></g>
</g>

<!-- ===== Pedigree J ===== -->
<g id="pedJ">
<g id="J-connectors"><path class="ln" d="M804,2418H839 M822,2418V2533 M746.7,2533H897.8 M746.7,2533V2637 M822,2533V2637 M897.8,2533V2637"/></g>
<g id="J1"><use href="#J-c" class="n" x="784" y="2418"/></g>
<g id="J2"><use href="#J-s" class="n" x="859.5" y="2418"/></g>
<g id="J3"><use href="#J-c" class="n" x="746.7" y="2657"/><use href="#J-qc" class="r" x="746.7" y="2657"/><polygon class="ag" points="711,2678 726,2681 724,2692"/></g>
<g id="J4"><use href="#J-c" class="n" x="822" y="2657"/><use href="#J-qc" class="r" x="822" y="2657"/></g>
<g id="J5"><use href="#J-c" class="n" x="897.8" y="2657"/><use href="#J-qc" class="r" x="897.8" y="2657"/></g>
</g>

<!-- ===== Pedigree K ===== -->
<g id="pedK" class="w3">
<g id="K-connectors"><path class="ln" d="M1131.5,2173H1192.6 M1160.4,2173V2299 M1356,2173H1417 M1386.8,2173V2299 M1112,2299H1212 M1112,2299V2319.5 M1212,2299V2319.5 M1311.5,2299H1461.5 M1311.5,2299V2319.5 M1461.5,2299V2319.5 M1232,2338.5H1292.5 M1260.4,2338.5V2464 M1461.5,2377V2464 M1212,2464H1311.5 M1212,2464V2485 M1311.5,2464V2485 M1411.5,2464H1511 M1411.5,2464V2485 M1511,2464V2485"/></g>
<g id="K1"><use href="#K-s" class="n" x="1111.5" y="2173"/></g>
<g id="K2"><use href="#K-c" class="n" x="1211.6" y="2173"/></g>
<g id="K3"><use href="#K-s" class="n" x="1336" y="2173"/></g>
<g id="K4"><use href="#K-c" class="n" x="1436" y="2173"/><use href="#K-qc" class="r" x="1436" y="2173"/><use href="#K-qtr" class="b" x="1436" y="2173"/><text class="tn" x="1435" y="2208">70 y</text></g>
<g id="K5"><use href="#K-c" class="n" x="1112" y="2338.5"/><use href="#K-qbl" class="y" x="1112" y="2338.5"/></g>
<g id="K6"><use href="#K-s" class="n" x="1212" y="2338.5"/></g>
<g id="K7"><use href="#K-c" class="n" x="1311.5" y="2338.5"/><text class="tn" x="1311.5" y="2373">45 y</text></g>
<g id="K8"><use href="#K-c" class="n" x="1461.5" y="2338.5"/><use href="#K-qbr" class="g" x="1461.5" y="2338.5"/><text class="tn" x="1461.5" y="2373">50 y</text></g>
<g id="K9"><use href="#K-s" class="n" x="1212" y="2504"/><use href="#K-qs" class="r" x="1212" y="2504"/><circle cx="1213" cy="2506" r="5" fill="#ff9a9a"/><text class="tn" x="1214" y="2539">14 y</text><polygon class="ar" points="1181,2522 1192,2525 1191,2536"/></g>
<g id="K10"><use href="#K-s" class="n" x="1311.5" y="2504"/><text class="tn" x="1311.5" y="2539">19 y</text></g>
<g id="K11"><use href="#K-c" class="n" x="1411.5" y="2504"/><text class="tn" x="1411.5" y="2539">20 y</text></g>
<g id="K12"><use href="#K-c" class="n" x="1511" y="2504"/><text class="tn" x="1511" y="2539">25 y</text></g>
</g>

<!-- ===== Pedigree L ===== -->
<g id="pedL" class="w1">
<g id="L-connectors"><path class="ln" d="M117.5,2766H169 M140,2766V2872.7 M400,2768H432.5 M417,2768V2884 M107,2872.7H174 M107,2872.7V2951 M174,2872.7V2951 M240,2884H594 M240,2884V2950.5 M311,2884V2950.5 M380.8,2884V2951 M452,2884V2951 M523,2884V2951 M594,2884V2951 M193,2969H220.5 M207,2969V3071 M27.8,3071H523 M27.8,3071V3150 M98,3071V3150.5 M169.4,3071V3150.5 M240,3071V3150.5 M311,3071V3150.5 M380.8,3071V3150 M452,3071V3150 M523,3071V3150"/></g>
<g id="L1"><use href="#L-s" class="n" x="98" y="2766"/><use href="#L-x" class="k" x="98" y="2766"/><text class="tl" x="96" y="2798">´94 years</text></g>
<g id="L2"><use href="#L-c" class="n" x="188" y="2766"/><use href="#L-x" class="k" x="188" y="2766"/><text class="tl" x="188" y="2798">´94 years</text></g>
<g id="L3"><use href="#L-c" class="n" x="381" y="2769.5"/><use href="#L-x" class="k" x="381" y="2769.5"/></g>
<g id="L4"><use href="#L-s" class="n" x="452" y="2769.5"/><use href="#L-x" class="k" x="452" y="2769.5"/></g>
<g id="L5"><use href="#L-c" class="n" x="107" y="2968.5"/></g>
<g id="L6"><use href="#L-c" class="n" x="174" y="2968.5"/></g>
<g id="L7"><use href="#L-s" class="n" x="240" y="2968.5"/><use href="#L-x" class="k" x="240" y="2968.5"/><text class="tl" x="240" y="3001">´33 years</text><text class="tl" x="240" y="3016">Car crash</text></g>
<g id="L8"><use href="#L-s" class="n" x="311" y="2968.5"/><use href="#L-x" class="k" x="311" y="2968.5"/><text class="tl" x="311" y="3001">Car crash</text></g>
<g id="L9"><use href="#L-c" class="n" x="380.8" y="2968.5"/></g>
<g id="L10"><use href="#L-c" class="n" x="452" y="2968.5"/></g>
<g id="L11"><use href="#L-c" class="n" x="523" y="2968.5"/></g>
<g id="L12"><use href="#L-c" class="n" x="594" y="2968.5"/></g>
<g id="L13"><use href="#L-s" class="n" x="27.8" y="3168"/><use href="#L-qs" class="r" x="27.8" y="3168"/><polygon class="ag" points="0,3187 8,3189 7,3198"/></g>
<g id="L14"><use href="#L-c" class="n" x="98" y="3168"/></g>
<g id="L15"><use href="#L-c" class="n" x="169.4" y="3168"/><circle cx="178" cy="3177" r="4.5" fill="#33cc33"/></g>
<g id="L16"><use href="#L-c" class="n" x="240" y="3168"/><use href="#L-qc" class="r" x="240" y="3168"/></g>
<g id="L17"><use href="#L-c" class="n" x="311" y="3168"/><use href="#L-qc" class="r" x="311" y="3168"/></g>
<g id="L18"><use href="#L-s" class="n" x="380.8" y="3168"/></g>
<g id="L19"><use href="#L-s" class="n" x="452" y="3168"/></g>
<g id="L20"><use href="#L-s" class="n" x="523" y="3168"/></g>
</g>

<!-- ===== Pedigree M ===== -->
<g id="pedM" class="w1">
<g id="M-connectors"><path class="ln" d="M1618.5,2774H1668 M1641.5,2774V2862.7 M1305,2862.7H1979 M1305,2862.7V2879.5 M1652,2862.7V2879.5 M1734,2862.7V2879.5 M1979,2862.7V2879.5 M1238,2895.5H1289.5 M1263,2895.5V2950 M1652,2911.5V2950 M1979,2911.5V2950 M998.8,2950H1528.7 M998.8,2950V2967 M1120,2950V2967 M1283,2950V2967 M1448,2950V2967 M1528.7,2950V2967 M1610,2950H1692.6 M1610,2950V2967 M1692.6,2950V2967 M1775,2950H2181 M1775,2950V2967 M1855.7,2950V2967 M1936,2950V2967 M2018.7,2950V2967 M2100,2950V2967 M2181,2950V2967 M930.2,2983H983.3 M958,2983V3044 M1120,2999V3044 M1283,2999V3044 M1448,2999V3044 M914.7,3044H997 M914.7,3044V3061.5 M997,3044V3061.5 M1079.5,3044H1160 M1079.5,3044V3061.5 M1160,3044V3061.5 M1242.5,3044H1325 M1242.5,3044V3061.5 M1325,3044V3061.5 M1406.5,3044H1489 M1406.5,3044V3061.5 M1489,3044V3061.5 M914.7,3093.5V3136 M1079.5,3093.5V3136"/></g>
<g id="M1"><use href="#M-s" class="n" x="1603" y="2774.5"/><use href="#M-x" class="k" x="1603" y="2774.5"/></g>
<g id="M2"><use href="#M-c" class="n" x="1683.6" y="2774.5"/><use href="#M-x" class="k" x="1683.6" y="2774.5"/></g>
<g id="M3"><use href="#M-s" class="n" x="1222.5" y="2895.5"/><use href="#M-x" class="k" x="1222.5" y="2895.5"/></g>
<g id="M4"><use href="#M-c" class="n" x="1305" y="2895.5"/><use href="#M-qc" class="r" x="1305" y="2895.5"/><use href="#M-x" class="k" x="1305" y="2895.5"/></g>
<g id="M5"><use href="#M-s" class="n" x="1652" y="2895.5"/><use href="#M-x" class="k" x="1652" y="2895.5"/></g>
<g id="M6"><use href="#M-c" class="n" x="1734" y="2895.5"/><use href="#M-x" class="k" x="1734" y="2895.5"/></g>
<g id="M7"><use href="#M-c" class="n" x="1979" y="2895.5"/></g>
<g id="M8"><use href="#M-s" class="n" x="914.7" y="2983"/><use href="#M-qbr" class="g" x="914.7" y="2983"/></g>
<g id="M9"><use href="#M-c" class="n" x="998.8" y="2983"/></g>
<g id="M10"><use href="#M-s" class="n" x="1120" y="2983"/><use href="#M-qs" class="r" x="1120" y="2983"/></g>
<g id="M11"><use href="#M-c" class="n" x="1283" y="2983"/><use href="#M-qc" class="r" x="1283" y="2983"/></g>
<g id="M12"><use href="#M-c" class="n" x="1448" y="2983"/></g>
<g id="M13"><use href="#M-s" class="n" x="1528.7" y="2983"/><use href="#M-qs" class="r" x="1528.7" y="2983"/><use href="#M-x" class="k" x="1528.7" y="2983"/></g>
<g id="M14"><use href="#M-s" class="n" x="1610" y="2983"/></g>
<g id="M15"><use href="#M-c" class="n" x="1692.6" y="2983"/><use href="#M-qc" class="r" x="1692.6" y="2983"/></g>
<g id="M16"><use href="#M-c" class="n" x="1775" y="2983"/></g>
<g id="M17"><use href="#M-c" class="n" x="1855.7" y="2983"/></g>
<g id="M18"><use href="#M-s" class="n" x="1936" y="2983"/></g>
<g id="M19"><use href="#M-s" class="n" x="2018.7" y="2983"/></g>
<g id="M20"><use href="#M-s" class="n" x="2100" y="2983"/></g>
<g id="M21"><use href="#M-s" class="n" x="2181" y="2983"/></g>
<g id="M22"><use href="#M-c" class="n" x="914.7" y="3077.5"/><use href="#M-qc" class="r" x="914.7" y="3077.5"/><polygon class="ar" points="890,3093 899,3095 898,3104"/></g>
<g id="M23"><use href="#M-s" class="n" x="997" y="3077.5"/><use href="#M-qtr" class="b" x="997" y="3077.5"/><use href="#M-qbr" class="g" x="997" y="3077.5"/></g>
<g id="M24"><use href="#M-c" class="n" x="1079.5" y="3077.5"/></g>
<g id="M25"><use href="#M-s" class="n" x="1160" y="3077.5"/></g>
<g id="M26"><use href="#M-s" class="n" x="1242.5" y="3077.5"/></g>
<g id="M27"><use href="#M-c" class="n" x="1325" y="3077.5"/><use href="#M-qc" class="r" x="1325" y="3077.5"/></g>
<g id="M28"><use href="#M-s" class="n" x="1406.5" y="3077.5"/></g>
<g id="M29"><use href="#M-c" class="n" x="1489" y="3077.5"/></g>
<g id="M30"><use href="#M-s" class="n" x="914.7" y="3152"/></g>
<g id="M31"><use href="#M-s" class="n" x="1079.5" y="3152"/></g>
</g>
</svg>
